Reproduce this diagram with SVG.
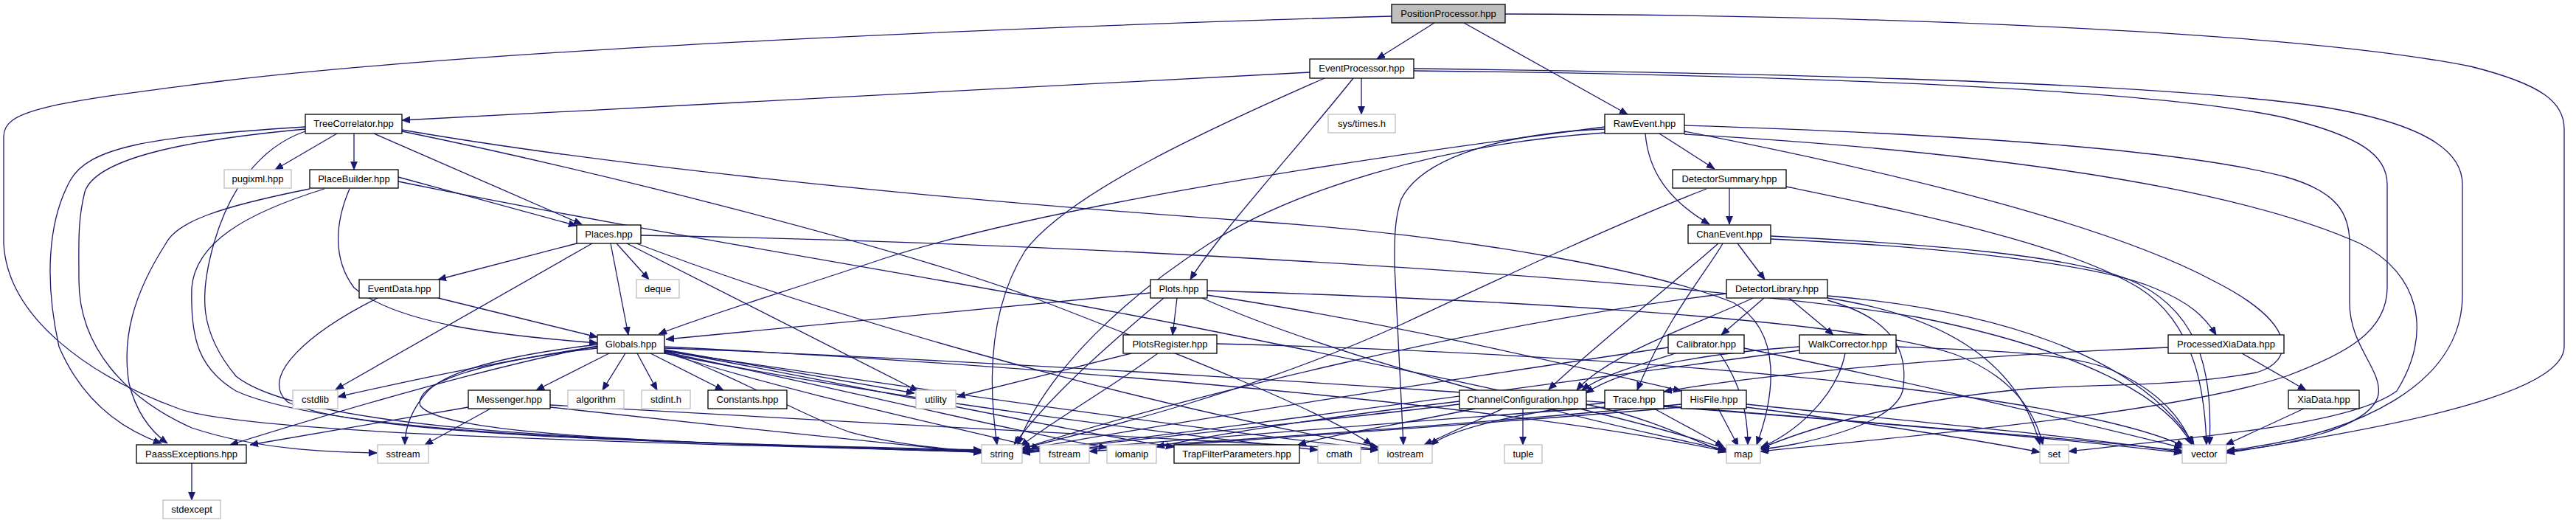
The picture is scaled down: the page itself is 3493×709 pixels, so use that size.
<svg xmlns="http://www.w3.org/2000/svg" width="3493" height="709" viewBox="0 0 3493 709">
<style>
.e{fill:none;stroke:#191970;stroke-width:1.3;marker-end:url(#arr)}
.n rect{fill:#fff;stroke:#000;stroke-width:1.3}
.x rect{fill:#fff;stroke:#bfbfbf;stroke-width:1.3}
.r rect{fill:#bfbfbf;stroke:#000;stroke-width:1.3}
text{font-family:"Liberation Sans",Arial,sans-serif;font-size:13px;text-anchor:middle;fill:#000}
</style>
<defs>
<marker id="arr" markerUnits="userSpaceOnUse" markerWidth="14" markerHeight="10" refX="11" refY="4.5" orient="auto">
<path d="M0,0 L11,4.5 L0,9 z" fill="#191970" stroke="#191970" stroke-width="0.8"/>
</marker>
</defs>
<rect width="3493" height="709" fill="#fff"/>
<g id="edges">
<path class="e" d="M1945,31 L1867,80"/>
<path class="e" d="M1985,31 L2207,155"/>
<path class="e" d="M1887,22 C1500,33 700,62 300,110 C60,140 5,150 5,185 L5,330 C10,430 120,510 245,555 C350,590 900,600 1331,613"/>
<path class="e" d="M2041,19 C2500,20 3100,40 3350,90 C3450,115 3477,140 3477,175 L3477,470 C3477,540 3200,585 3019,614"/>
<path class="e" d="M1776,98 L545,163"/>
<path class="e" d="M1846,106 L1846,155"/>
<path class="e" d="M1835,106 C1760,200 1650,320 1614,379"/>
<path class="e" d="M1796,106 C1650,170 1450,260 1390,340 C1340,420 1340,520 1352,603"/>
<path class="e" d="M1917,93 C2300,98 2900,108 3150,145 C3300,170 3339,210 3339,250 L3339,400 C3339,520 3200,590 3019,611"/>
<path class="e" d="M1917,96 C2300,100 2900,115 3100,160 C3200,185 3237,210 3237,250 L3237,390 C3237,450 3180,480 3100,510 C2950,560 2600,590 2387,612"/>
<path class="e" d="M2250,181 L2325,229"/>
<path class="e" d="M2231,181 C2235,230 2260,270 2318,304"/>
<path class="e" d="M2176,172 C1800,220 1400,285 1200,350 C1050,400 950,430 893,453"/>
<path class="e" d="M2176,175 C2050,180 1930,210 1900,270 C1890,300 1891,330 1891,360 L1903,603"/>
<path class="e" d="M2176,180 C1950,195 1750,260 1640,330 C1530,400 1420,500 1380,603"/>
<path class="e" d="M2284,178 C2550,230 2850,300 3000,380 C3120,440 3110,490 3060,505 C2950,525 2850,520 2750,527 C2550,545 2430,590 2387,608"/>
<path class="e" d="M2284,170 C2600,180 2950,200 3100,240 C3170,260 3186,290 3186,330 L3186,410 C3186,470 3230,500 3225,535 C3215,580 3100,605 3019,612"/>
<path class="e" d="M2284,182 C2600,200 3000,240 3200,330 C3280,370 3300,450 3250,530 C3190,575 3000,590 2805,612"/>
<path class="e" d="M2345,255 L2345,304"/>
<path class="e" d="M2314,256 C2200,300 2050,370 1900,440 C1700,530 1500,580 1386,608"/>
<path class="e" d="M2422,253 C2600,290 2800,330 2900,390 C2980,440 2990,540 2992,603"/>
<path class="e" d="M2356,330 L2393,379"/>
<path class="e" d="M2330,330 C2250,400 2150,480 2100,528"/>
<path class="e" d="M2336,330 C2320,360 2260,430 2220,529"/>
<path class="e" d="M2401,320 C2600,330 2820,345 2900,385 C2990,430 3000,520 2996,603"/>
<path class="e" d="M2401,324 C2650,335 2850,360 2920,390 C2970,410 2990,430 3005,454"/>
<path class="e" d="M2392,404 L2334,454"/>
<path class="e" d="M2426,404 L2486,454"/>
<path class="e" d="M2377,404 C2300,440 2180,480 2138,529"/>
<path class="e" d="M2478,407 C2560,430 2590,470 2580,530 C2565,580 2430,605 2388,609"/>
<path class="e" d="M2478,404 C2650,430 2740,500 2766,603"/>
<path class="e" d="M2478,401 C2700,420 2900,480 2975,603"/>
<path class="e" d="M2341,398 C2000,440 1600,540 1386,608"/>
<path class="e" d="M2272,479 C2220,495 2170,510 2145,529"/>
<path class="e" d="M2332,479 C2360,520 2370,560 2370,603"/>
<path class="e" d="M2262,471 C2000,510 1600,570 1386,610"/>
<path class="e" d="M2365,472 C2600,520 2850,580 2959,607"/>
<path class="e" d="M2440,470 C2300,480 2200,500 2150,533"/>
<path class="e" d="M2502,479 C2490,540 2430,590 2388,606"/>
<path class="e" d="M2571,470 C2700,475 2800,478 2860,500 C2930,530 2960,570 2972,603"/>
<path class="e" d="M2440,475 C2100,520 1600,590 1386,612"/>
<path class="e" d="M3040,479 L3127,529"/>
<path class="e" d="M2940,471 C2700,480 2400,505 2256,531"/>
<path class="e" d="M3124,554 L3018,603"/>
<path class="e" d="M2065,554 L2065,603"/>
<path class="e" d="M2038,554 L1931,603"/>
<path class="e" d="M1979,548 C1800,570 1500,600 1386,613"/>
<path class="e" d="M2151,548 C2250,570 2300,600 2341,613"/>
<path class="e" d="M2000,554 C1900,575 1800,590 1760,603"/>
<path class="e" d="M1979,544 C1800,565 1640,590 1568,606"/>
<path class="e" d="M2243,554 L2337,605"/>
<path class="e" d="M2176,552 C1900,572 1550,600 1386,614"/>
<path class="e" d="M2256,550 C2500,570 2800,593 2959,611"/>
<path class="e" d="M2176,546 C2050,560 1960,585 1940,604"/>
<path class="e" d="M2330,554 L2357,605"/>
<path class="e" d="M2280,548 C2000,575 1600,603 1386,613"/>
<path class="e" d="M2280,552 C1950,580 1600,602 1477,612"/>
<path class="e" d="M2368,548 C2600,572 2850,595 2959,613"/>
<path class="e" d="M2368,552 C2550,575 2700,600 2766,613"/>
<path class="e" d="M1596,404 L1590,454"/>
<path class="e" d="M1560,397 L903,460"/>
<path class="e" d="M1578,404 C1500,470 1420,540 1375,603"/>
<path class="e" d="M1637,400 C1900,440 2150,500 2280,530"/>
<path class="e" d="M1630,404 C1800,480 2100,560 2341,610"/>
<path class="e" d="M1637,394 C2000,405 2500,430 2650,480 C2730,510 2760,560 2770,603"/>
<path class="e" d="M1534,479 L1298,538"/>
<path class="e" d="M1570,479 C1500,530 1420,575 1384,605"/>
<path class="e" d="M1650,466 C2200,480 2800,530 2962,605"/>
<path class="e" d="M457,181 L373,230"/>
<path class="e" d="M480,181 L480,230"/>
<path class="e" d="M507,181 L789,304"/>
<path class="e" d="M545,176 C800,220 1200,265 1700,300 C2000,320 2250,370 2350,410 C2420,450 2405,540 2382,603"/>
<path class="e" d="M545,178 C800,230 1200,330 1400,403 C1600,480 1800,560 1860,603"/>
<path class="e" d="M414,172 C200,185 120,200 95,245 C65,300 60,380 80,470 C110,540 160,580 219,601"/>
<path class="e" d="M414,175 C250,190 130,215 115,260 C105,300 107,330 107,380 C107,470 170,540 260,580 C350,610 450,613 511,614"/>
<path class="e" d="M414,178 C350,200 310,260 290,330 C270,400 270,450 320,510 C420,590 900,600 1331,611"/>
<path class="e" d="M420,256 C300,280 240,300 225,330 C180,400 165,460 175,520 C185,560 205,585 227,601"/>
<path class="e" d="M440,256 C330,290 265,330 260,390 C258,460 270,500 320,530 C450,590 900,600 1331,610"/>
<path class="e" d="M474,256 C455,300 450,350 480,390 C540,440 680,455 810,465"/>
<path class="e" d="M540,240 L782,306"/>
<path class="e" d="M540,246 C900,320 1300,380 1600,440 C1900,500 2200,560 2341,609"/>
<path class="e" d="M782,330 L594,379"/>
<path class="e" d="M803,330 L455,528"/>
<path class="e" d="M828,330 L852,454"/>
<path class="e" d="M836,330 L880,379"/>
<path class="e" d="M850,330 L1245,530"/>
<path class="e" d="M863,330 C1100,420 1500,540 1869,606"/>
<path class="e" d="M869,319 C1500,330 2300,380 2600,430 C2850,480 2945,550 2972,603"/>
<path class="e" d="M594,404 L810,457"/>
<path class="e" d="M512,404 C420,450 350,510 390,545 C480,590 900,600 1331,612"/>
<path class="e" d="M826,479 L727,529"/>
<path class="e" d="M848,479 L817,529"/>
<path class="e" d="M864,479 L891,529"/>
<path class="e" d="M882,479 L981,529"/>
<path class="e" d="M901,474 L1240,533"/>
<path class="e" d="M810,470 C700,485 560,515 458,538"/>
<path class="e" d="M810,467 C700,480 610,500 580,530 C558,555 549,580 549,603"/>
<path class="e" d="M810,469 C650,500 450,560 312,603"/>
<path class="e" d="M901,476 C1000,510 1080,560 1150,585 C1220,605 1300,610 1331,612"/>
<path class="e" d="M901,470 C1300,490 2000,540 2341,612"/>
<path class="e" d="M901,478 C1100,540 1300,580 1410,608"/>
<path class="e" d="M901,477 C1150,530 1400,590 1501,607"/>
<path class="e" d="M901,475 C1200,530 1450,585 1592,606"/>
<path class="e" d="M901,479 C1200,540 1600,590 1787,610"/>
<path class="e" d="M901,476 C1200,520 1600,580 1869,609"/>
<path class="e" d="M901,472 C1400,490 2500,560 2959,614"/>
<path class="e" d="M810,472 C650,490 560,520 570,550 C600,590 900,600 1331,613"/>
<path class="e" d="M635,552 L339,603"/>
<path class="e" d="M665,554 L576,603"/>
<path class="e" d="M746,552 C900,570 1200,600 1331,614"/>
<path class="e" d="M746,549 C1100,570 1600,595 1869,610"/>
<path class="e" d="M260,628 L260,678"/>
</g>
<g id="n-PositionProcessor" class="r"><rect x="1887" y="6" width="154" height="25"/><text x="1964" y="23">PositionProcessor.hpp</text></g>
<g id="n-EventProcessor" class="n"><rect x="1776" y="80" width="141" height="26"/><text x="1846.5" y="97">EventProcessor.hpp</text></g>
<g id="n-TreeCorrelator" class="n"><rect x="414" y="155" width="131" height="26"/><text x="479.5" y="172">TreeCorrelator.hpp</text></g>
<g id="n-systimes" class="x"><rect x="1801" y="155" width="91" height="25"/><text x="1846.5" y="172">sys/times.h</text></g>
<g id="n-RawEvent" class="n"><rect x="2176" y="155" width="108" height="26"/><text x="2230" y="172">RawEvent.hpp</text></g>
<g id="n-pugixml" class="x"><rect x="304" y="230" width="91" height="25"/><text x="349.5" y="247">pugixml.hpp</text></g>
<g id="n-PlaceBuilder" class="n"><rect x="420" y="230" width="120" height="25"/><text x="480" y="247">PlaceBuilder.hpp</text></g>
<g id="n-DetectorSummary" class="n"><rect x="2268" y="230" width="154" height="25"/><text x="2345" y="247">DetectorSummary.hpp</text></g>
<g id="n-Places" class="n"><rect x="782" y="305" width="87" height="25"/><text x="825.5" y="322">Places.hpp</text></g>
<g id="n-ChanEvent" class="n"><rect x="2289" y="305" width="112" height="25"/><text x="2345" y="322">ChanEvent.hpp</text></g>
<g id="n-EventData" class="n"><rect x="487" y="379" width="109" height="25"/><text x="541.5" y="396">EventData.hpp</text></g>
<g id="n-deque" class="x"><rect x="863" y="379" width="58" height="25"/><text x="892" y="396">deque</text></g>
<g id="n-Plots" class="n"><rect x="1560" y="379" width="77" height="25"/><text x="1598.5" y="396">Plots.hpp</text></g>
<g id="n-DetectorLibrary" class="n"><rect x="2341" y="379" width="137" height="25"/><text x="2409.5" y="396">DetectorLibrary.hpp</text></g>
<g id="n-Globals" class="n"><rect x="810" y="454" width="91" height="25"/><text x="855.5" y="471">Globals.hpp</text></g>
<g id="n-PlotsRegister" class="n"><rect x="1523" y="454" width="127" height="25"/><text x="1586.5" y="471">PlotsRegister.hpp</text></g>
<g id="n-Calibrator" class="n"><rect x="2262" y="454" width="103" height="25"/><text x="2313.5" y="471">Calibrator.hpp</text></g>
<g id="n-WalkCorrector" class="n"><rect x="2440" y="454" width="131" height="25"/><text x="2505.5" y="471">WalkCorrector.hpp</text></g>
<g id="n-ProcessedXiaData" class="n"><rect x="2940" y="454" width="157" height="25"/><text x="3018.5" y="471">ProcessedXiaData.hpp</text></g>
<g id="n-cstdlib" class="x"><rect x="397" y="529" width="61" height="25"/><text x="427.5" y="546">cstdlib</text></g>
<g id="n-Messenger" class="n"><rect x="635" y="529" width="111" height="25"/><text x="690.5" y="546">Messenger.hpp</text></g>
<g id="n-algorithm" class="x"><rect x="770" y="529" width="76" height="25"/><text x="808" y="546">algorithm</text></g>
<g id="n-stdint" class="x"><rect x="870" y="529" width="66" height="25"/><text x="903" y="546">stdint.h</text></g>
<g id="n-Constants" class="n"><rect x="960" y="529" width="107" height="25"/><text x="1013.5" y="546">Constants.hpp</text></g>
<g id="n-utility" class="x"><rect x="1242" y="529" width="54" height="25"/><text x="1269" y="546">utility</text></g>
<g id="n-ChannelConfiguration" class="n"><rect x="1979" y="529" width="172" height="25"/><text x="2065" y="546">ChannelConfiguration.hpp</text></g>
<g id="n-Trace" class="n"><rect x="2176" y="529" width="80" height="25"/><text x="2216" y="546">Trace.hpp</text></g>
<g id="n-HisFile" class="n"><rect x="2280" y="529" width="88" height="25"/><text x="2324" y="546">HisFile.hpp</text></g>
<g id="n-XiaData" class="n"><rect x="3103" y="529" width="96" height="25"/><text x="3151" y="546">XiaData.hpp</text></g>
<g id="n-PaassExceptions" class="n"><rect x="185" y="603" width="149" height="25"/><text x="259.5" y="620">PaassExceptions.hpp</text></g>
<g id="n-sstream" class="x"><rect x="512" y="603" width="69" height="25"/><text x="546.5" y="620">sstream</text></g>
<g id="n-string" class="x"><rect x="1331" y="603" width="55" height="25"/><text x="1358.5" y="620">string</text></g>
<g id="n-fstream" class="x"><rect x="1410" y="603" width="67" height="25"/><text x="1443.5" y="620">fstream</text></g>
<g id="n-iomanip" class="x"><rect x="1501" y="603" width="67" height="25"/><text x="1534.5" y="620">iomanip</text></g>
<g id="n-TrapFilterParameters" class="n"><rect x="1592" y="603" width="170" height="25"/><text x="1677" y="620">TrapFilterParameters.hpp</text></g>
<g id="n-cmath" class="x"><rect x="1787" y="603" width="58" height="25"/><text x="1816" y="620">cmath</text></g>
<g id="n-iostream" class="x"><rect x="1869" y="603" width="73" height="25"/><text x="1905.5" y="620">iostream</text></g>
<g id="n-tuple" class="x"><rect x="2040" y="603" width="51" height="25"/><text x="2065.5" y="620">tuple</text></g>
<g id="n-map" class="x"><rect x="2341" y="603" width="46" height="25"/><text x="2364" y="620">map</text></g>
<g id="n-set" class="x"><rect x="2766" y="603" width="39" height="25"/><text x="2785.5" y="620">set</text></g>
<g id="n-vector" class="x"><rect x="2959" y="603" width="60" height="25"/><text x="2989" y="620">vector</text></g>
<g id="n-stdexcept" class="x"><rect x="221" y="678" width="78" height="25"/><text x="260" y="695">stdexcept</text></g>
</svg>
